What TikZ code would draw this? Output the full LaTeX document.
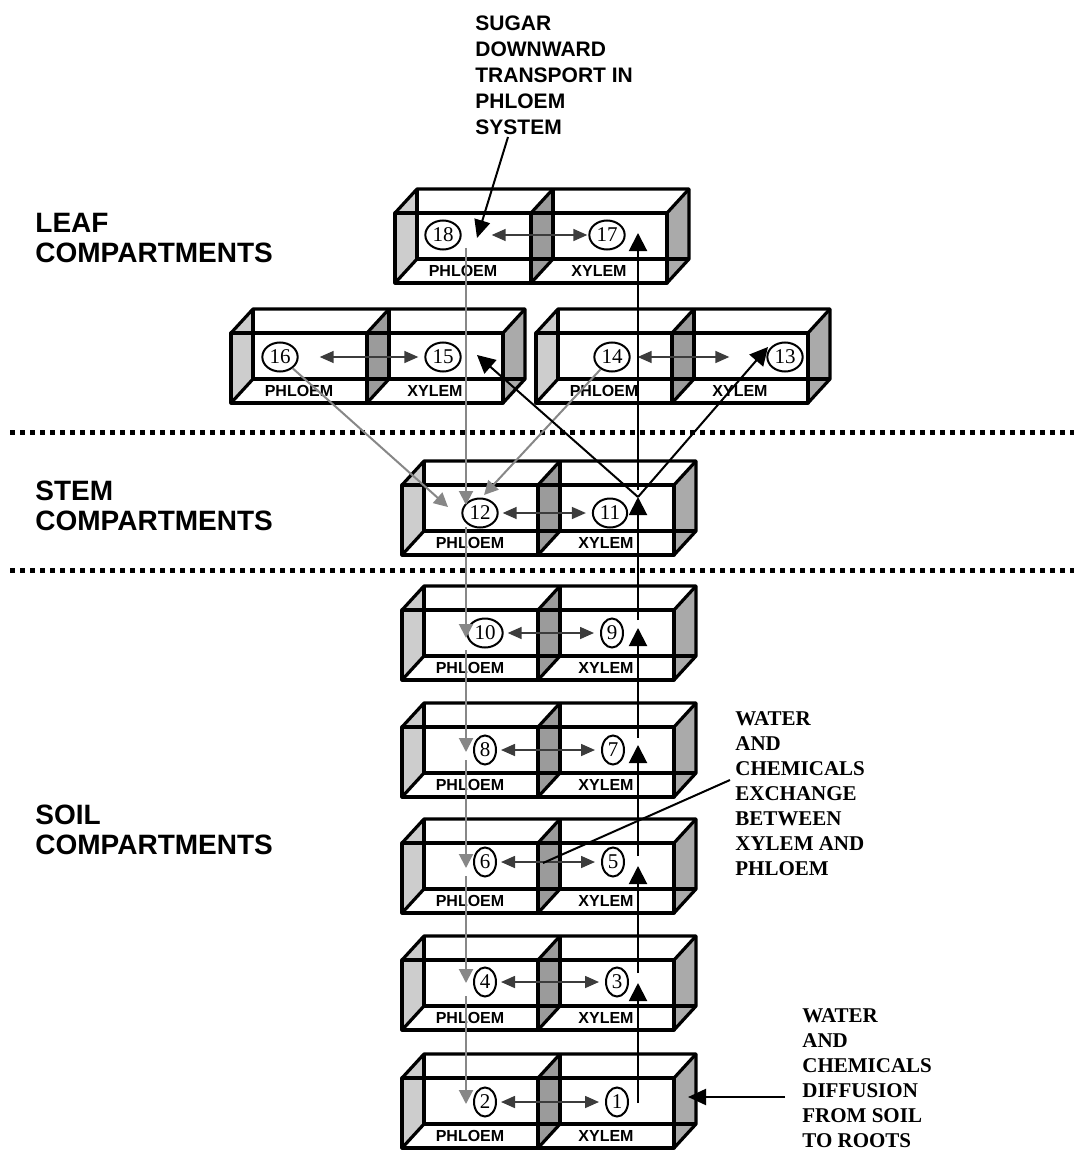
\documentclass[tikz,border=0pt]{standalone}
\usepackage{fontspec}
\setmainfont{Liberation Serif}
\setsansfont{Liberation Sans}
\usetikzlibrary{arrows.meta,shapes.geometric}
\definecolor{phl}{RGB}{135,135,135}
\definecolor{exc}{RGB}{60,60,60}
\definecolor{sideL}{RGB}{205,205,205}
\definecolor{sideM}{RGB}{155,155,155}
\definecolor{sideR}{RGB}{170,170,170}
\tikzset{
  boxline/.style={line width=1.6pt,line join=round},
  boxlbl/.style={font=\sffamily\bfseries\fontsize{8}{9}\selectfont,inner sep=0pt},
  numnode/.style={ellipse,draw,line width=1pt,fill=white,inner sep=1pt,
    minimum width=11pt,minimum height=14.5pt,font=\fontsize{10.5}{11}\selectfont},
  grouplbl/.style={font=\sffamily\bfseries\fontsize{14}{15}\selectfont,align=left,inner sep=0pt,anchor=north west},
  notesans/.style={font=\sffamily\bfseries\fontsize{10.5}{13}\selectfont,align=left,inner sep=0pt,anchor=north west},
  noteserif/.style={font=\bfseries\fontsize{10.5}{12.5}\selectfont,align=left,inner sep=0pt,anchor=north west},
  phlflow/.style={-{Triangle[length=7pt,width=7pt]},line width=1pt,draw=phl},
  xylflow/.style={-{Triangle[length=9pt,width=9pt]},line width=1pt,draw=black},
  exch/.style={{Triangle[length=7pt,width=6pt]}-{Triangle[length=7pt,width=6pt]},
    line width=0.8pt,draw=exc,shorten <=2pt,shorten >=3pt},
  callout/.style={-{Triangle[length=9pt,width=8pt]},line width=1pt},
  sepline/.style={line width=2.5pt,dash pattern=on 2.5pt off 2.5pt},
  % one phloem/xylem pair, origin = front top left corner
  pics/compbox/.style={code={
    \fill[sideL] (0,0) -- (22,-24) -- (22,46) -- (0,70) -- cycle;
    \fill[sideM] (136,0) -- (158,-24) -- (158,46) -- (136,70) -- cycle;
    \fill[sideR] (272,0) -- (294,-24) -- (294,46) -- (272,70) -- cycle;
    % back edges
    \draw[boxline] (22,-24) -- (22,46) -- (294,46);
    \draw[boxline] (158,-24) -- (158,46);
    \draw[boxline] (0,70) -- (22,46) (136,70) -- (158,46);
    % front and top
    \draw[boxline] (0,0) rectangle (272,70);
    \draw[boxline] (136,0) -- (136,70);
    \draw[boxline] (0,0) -- (22,-24) -- (294,-24) -- (294,46) -- (272,70);
    \draw[boxline] (136,0) -- (158,-24) (272,0) -- (294,-24);
    \node[boxlbl] (-phl) at (68,58) {PHLOEM};
    \node[boxlbl] (-xyl) at (204,58) {XYLEM};
  }},
}
\begin{document}
\begin{tikzpicture}[x=0.5pt,y=-0.5pt]
\useasboundingbox (0,0) rectangle (1074,1150);

% Separators
\draw[sepline] (10,432) -- (1074,432);
\draw[sepline] (10,570) -- (1074,570);

% Group labels
\node[grouplbl] (leaflbl) at (35,213) {LEAF\\COMPARTMENTS};
\node[grouplbl] (stemlbl) at (35,481) {STEM\\COMPARTMENTS};
\node[grouplbl] (soillbl) at (35,805) {SOIL\\COMPARTMENTS};

% --- Compartment boxes ---
\pic (b18) at (395,213) {compbox};
\pic (b16) at (231,333) {compbox};
\pic (b14) at (536,333) {compbox};
\pic (b12) at (402,485) {compbox};
\pic (b10) at (402,610) {compbox};
\pic (b8) at (402,727) {compbox};
\pic (b6) at (402,843) {compbox};
\pic (b4) at (402,960) {compbox};
\pic (b2) at (402,1078) {compbox};

% --- Numbered compartments ---
\node[numnode] (n18) at (443,235) {18};
\node[numnode] (n17) at (607,235) {17};
\node[numnode] (n16) at (280,357) {16};
\node[numnode] (n15) at (443,357) {15};
\node[numnode] (n14) at (612,357) {14};
\node[numnode] (n13) at (785,357) {13};
\node[numnode] (n12) at (480,513) {12};
\node[numnode] (n11) at (610,513) {11};
\node[numnode] (n10) at (485,633) {10};
\node[numnode] (n9) at (612,633) {9};
\node[numnode] (n8) at (485,750) {8};
\node[numnode] (n7) at (613,750) {7};
\node[numnode] (n6) at (485,862) {6};
\node[numnode] (n5) at (613,862) {5};
\node[numnode] (n4) at (485,982) {4};
\node[numnode] (n3) at (617,982) {3};
\node[numnode] (n2) at (485,1102) {2};
\node[numnode] (n1) at (617,1102) {1};

% exchange xylem <-> phloem
\draw[exch,shorten <=15pt,shorten >=0.5pt] (n18) -- (n17);
\draw[exch,shorten <=10.5pt] (n16) -- (n15);
\draw[exch,shorten <=3.5pt,shorten >=18.5pt] (n14) -- (n13);
\draw[exch] (n12) -- (n11);
\draw[exch] (n10) -- (n9);
\draw[exch] (n8) -- (n7);
\draw[exch] (n6) -- (n5);
\draw[exch] (n4) -- (n3);
\draw[exch] (n2) -- (n1);

% --- Phloem, downward ---
\coordinate (ptop) at (466,248);
\coordinate (p12) at (466,505);
\coordinate (p10) at (466,638);
\coordinate (p8) at (466,752);
\coordinate (p6) at (466,868);
\coordinate (p4) at (466,983);
\coordinate (p2) at (466,1104);
\coordinate (t12a) at (448,507);
\coordinate (t12b) at (484,495);
\draw[phlflow] (ptop) -- (p12);
\draw[phlflow] (466,527) -- (p10);
\draw[phlflow] (466,650) -- (p8);
\draw[phlflow] (466,760) -- (p6);
\draw[phlflow] (466,876) -- (p4);
\draw[phlflow] (466,996) -- (p2);
\draw[phlflow] (n16) -- (t12a);
\draw[phlflow] (n14) -- (t12b);

% --- Xylem, upward ---
\coordinate (xbot) at (638,1103);
\coordinate (x3) at (638,983);
\coordinate (x5) at (638,866);
\coordinate (x7) at (638,745);
\coordinate (x9) at (638,628);
\coordinate (x11) at (638,497);
\coordinate (x17) at (638,233);
\coordinate (t15) at (477,355);
\coordinate (t13) at (768,347);
\draw[xylflow] (xbot) -- (x3);
\draw[xylflow] (638,973) -- (x5);
\draw[xylflow] (638,856) -- (x7);
\draw[xylflow] (638,738) -- (x9);
\draw[xylflow] (638,620) -- (x11);
\draw[xylflow] (638,490) -- (x17);
\draw[xylflow] (x11) -- (t15);
\draw[xylflow] (x11) -- (t13);

% --- Notes ---
\node[notesans] (sugar) at (475,15) {SUGAR\\DOWNWARD\\TRANSPORT IN\\PHLOEM\\SYSTEM};
\coordinate (sugarend) at (508,137);
\coordinate (sugartip) at (477,238);
\draw[callout] (sugarend) -- (sugartip);

\node[noteserif] (xchg) at (735,711) {WATER\\AND\\CHEMICALS\\EXCHANGE\\BETWEEN\\XYLEM AND\\PHLOEM};
\coordinate (xchgend) at (730,780);
\coordinate (xchgtip) at (543,863);
\draw[line width=1pt] (xchgend) -- (xchgtip);

\node[noteserif] (diffu) at (802,1008) {WATER\\AND\\CHEMICALS\\DIFFUSION\\FROM SOIL\\TO ROOTS};
\coordinate (diffuend) at (785,1097);
\coordinate (diffutip) at (688,1097);
\draw[callout] (diffuend) -- (diffutip);
\end{tikzpicture}
\end{document}
